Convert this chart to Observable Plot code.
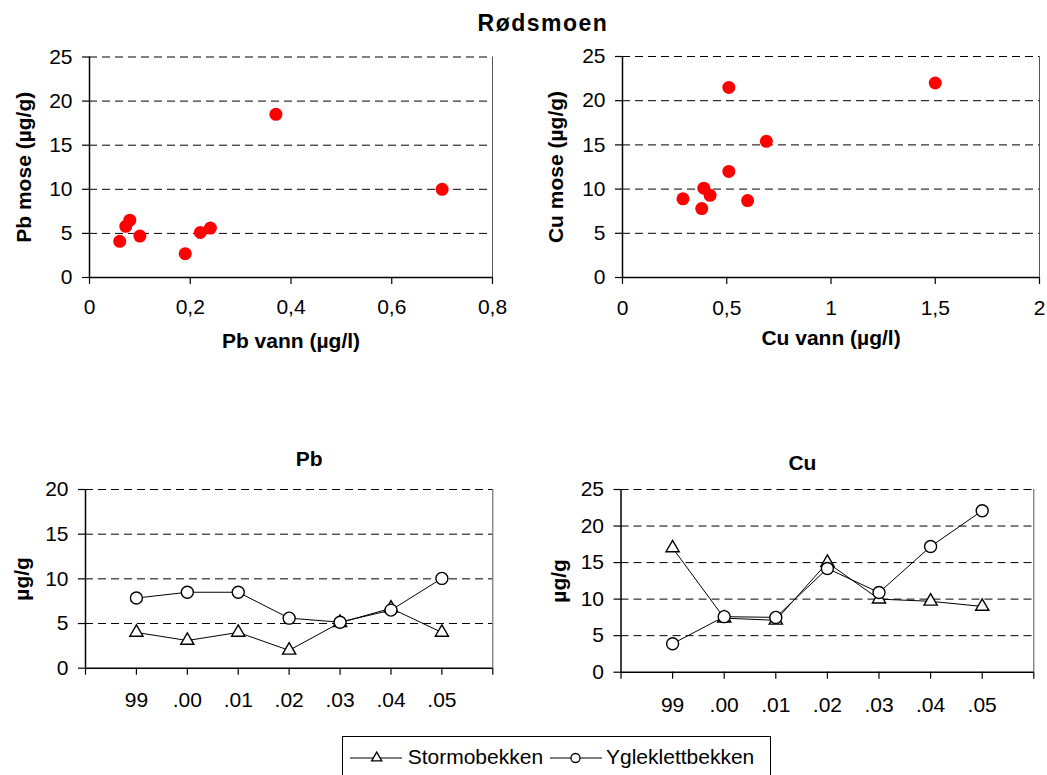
<!DOCTYPE html>
<html>
<head>
<meta charset="utf-8">
<script src="https://cdn.jsdelivr.net/npm/d3@7"></script>
<script src="https://cdn.jsdelivr.net/npm/@observablehq/plot@0.6"></script>
<style>
  body { margin: 0; background: #fff; }
  #chart { position: relative; width: 1047px; height: 775px; overflow: hidden; background: #fff;
           font-family: "Liberation Sans", Arial, sans-serif; }
  .panel { position: absolute; }
  .panel svg { overflow: visible; }
</style>
</head>
<body>
<div id="chart"></div>
<script>
// ---------- data ----------
const mainTitle = "Rødsmoen";

// scatter: Pb
const pbVann = [0.06, 0.072, 0.08, 0.10, 0.19, 0.22, 0.24, 0.37, 0.70];
const pbMose = [4.1, 5.8, 6.5, 4.7, 2.7, 5.1, 5.6, 18.5, 10.0];
// scatter: Cu
const cuVann = [0.29, 0.38, 0.39, 0.42, 0.51, 0.51, 0.60, 0.69, 1.50];
const cuMose = [8.9, 7.8, 10.1, 9.3, 12.0, 21.5, 8.7, 15.4, 22.0];

// time series
const yearLabels = ["99", ".00", ".01", ".02", ".03", ".04", ".05"];
const seriesNames = ["Stormobekken", "Ygleklettbekken"];
const pbStormo = [4.0, 3.1, 4.0, 2.0, 5.1, 6.7, 4.0];
const pbYglek  = [7.85, 8.5, 8.5, 5.6, 5.15, 6.5, 10.05];
const cuStormo = [17.0, 7.4, 7.1, 15.0, 10.0, 9.7, 9.0];
const cuYglek  = [3.9, 7.6, 7.5, 14.2, 10.9, 17.2, 22.1];

const pbScatterTicksX = [0, 0.2, 0.4, 0.6, 0.8];
const cuScatterTicksX = [0, 0.5, 1, 1.5, 2];
const ticks25 = [0, 5, 10, 15, 20, 25];
const ticks20 = [0, 5, 10, 15, 20];

// ---------- helpers ----------
const FONT = '"Liberation Sans", Arial, sans-serif';
const chart = document.getElementById("chart");
const comma = d => String(d).replace(".", ",");

function place(node, left, top) {
  const div = document.createElement("div");
  div.className = "panel";
  div.style.left = left + "px";
  div.style.top = top + "px";
  div.appendChild(node);
  chart.appendChild(div);
}

function baseStyle() {
  return { fontFamily: FONT, fontSize: "21px", color: "#000", background: "transparent", overflow: "visible" };
}

function scatterPanel(o) {
  const rows = o.xs.map((x, i) => ({ x, y: o.ys[i] }));
  const gridVals = o.yTicks.filter(v => v > 0);
  return Plot.plot({
    width: o.width, height: o.height,
    marginLeft: o.ml, marginRight: o.mr, marginTop: o.mt, marginBottom: o.mb,
    style: baseStyle(),
    x: { domain: o.xDomain },
    y: { domain: o.yDomain },
    marks: [
      Plot.ruleY(gridVals, { stroke: "#000", strokeWidth: 1, strokeDasharray: "8,5" }),
      Plot.ruleX([o.xDomain[1]], { stroke: "#555", strokeWidth: 1 }),
      Plot.axisX({ ticks: o.xTicks, tickFormat: comma, tickSize: 7, tickPadding: o.xPad, label: null, strokeWidth: 1.2 }),
      Plot.axisY({ ticks: o.yTicks, tickSize: 7, tickPadding: 10, label: null, strokeWidth: 1.2 }),
      Plot.ruleY([o.yDomain[0]], { stroke: "#000", strokeWidth: 1.5 }),
      Plot.ruleX([o.xDomain[0]], { stroke: "#000", strokeWidth: 1.5 }),
      Plot.dot(rows, { x: "x", y: "y", r: 6.5, fill: "#ff0000", stroke: "none" }),
      Plot.text([o.xLabel], { text: d => d, frameAnchor: "bottom", dy: o.xLabelDy, lineAnchor: "middle", fontWeight: "bold" }),
      Plot.text([o.yLabel], { text: d => d, frameAnchor: "left", dx: o.yLabelDx, rotate: -90, lineAnchor: "middle", textAnchor: "middle", fontWeight: "bold" })
    ]
  });
}

function linePanel(o) {
  const rows = [];
  o.series.forEach((vals, s) => vals.forEach((v, i) => rows.push({ series: seriesNames[s], x: i + 1, y: v })));
  const stormo = rows.filter(d => d.series === seriesNames[0]);
  const yglek = rows.filter(d => d.series === seriesNames[1]);
  const gridVals = o.yTicks.filter(v => v > 0);
  const xt = d3.range(0, yearLabels.length + 2);
  return Plot.plot({
    width: o.width, height: o.height,
    marginLeft: o.ml, marginRight: o.mr, marginTop: o.mt, marginBottom: o.mb,
    style: baseStyle(),
    x: { domain: [0, yearLabels.length + 1] },
    y: { domain: o.yDomain },
    marks: [
      Plot.ruleY(gridVals, { stroke: "#000", strokeWidth: 1, strokeDasharray: "8,5" }),
      Plot.ruleX([yearLabels.length + 1], { stroke: "#555", strokeWidth: 1 }),
      Plot.axisX({ ticks: xt, tickFormat: i => yearLabels[i - 1] ?? "", tickSize: 7, tickPadding: o.xPad, label: null, strokeWidth: 1.2 }),
      Plot.axisY({ ticks: o.yTicks, tickSize: 7, tickPadding: 10, label: null, strokeWidth: 1.2 }),
      Plot.ruleY([0], { stroke: "#000", strokeWidth: 1.5 }),
      Plot.ruleX([0], { stroke: "#000", strokeWidth: 1.5 }),
      Plot.line(stormo, { x: "x", y: "y", stroke: "#000", strokeWidth: 1 }),
      Plot.line(yglek, { x: "x", y: "y", stroke: "#000", strokeWidth: 1 }),
      Plot.dot(stormo, { x: "x", y: "y", symbol: "triangle", r: 4.9, fill: "#fff", stroke: "#000", strokeWidth: 1.4 }),
      Plot.dot(yglek, { x: "x", y: "y", symbol: "circle", r: 6, fill: "#fff", stroke: "#000", strokeWidth: 1.4 }),
      Plot.text([o.title], { text: d => d, frameAnchor: "top", dx: o.titleDx, dy: o.titleDy, lineAnchor: "middle", fontWeight: "bold" }),
      Plot.text([o.yLabel], { text: d => d, frameAnchor: "left", dx: o.yLabelDx, rotate: -90, lineAnchor: "middle", textAnchor: "middle", fontWeight: "bold" })
    ]
  });
}

// ---------- title ----------
const tsvg = d3.create("svg").attr("width", 1047).attr("height", 40);
tsvg.append("text").attr("x", 543).attr("y", 31).attr("text-anchor", "middle")
  .attr("font-family", FONT).attr("font-size", 23).attr("font-weight", "bold")
  .attr("letter-spacing", 1.5).text(mainTitle);
place(tsvg.node(), 0, 0);

// ---------- top row ----------
place(scatterPanel({
  xs: pbVann, ys: pbMose, xDomain: [0, 0.8], xTicks: pbScatterTicksX, yDomain: [0, 25], yTicks: ticks25,
  width: 515, height: 330, ml: 89, mr: 23, mt: 16.5, mb: 93, xPad: 15,
  xLabel: "Pb vann (µg/l)", xLabelDy: 64, yLabel: "Pb mose (µg/g)", yLabelDx: -65
}), 0, 40);

place(scatterPanel({
  xs: cuVann, ys: cuMose, xDomain: [0, 2], xTicks: cuScatterTicksX, yDomain: [0, 25], yTicks: ticks25,
  width: 532, height: 330, ml: 107, mr: 8, mt: 16, mb: 93, xPad: 16,
  xLabel: "Cu vann (µg/l)", xLabelDy: 61, yLabel: "Cu mose (µg/g)", yLabelDx: -66
}), 515, 40);

// ---------- bottom row ----------
place(linePanel({
  series: [pbStormo, pbYglek], yDomain: [0, 20], yTicks: ticks20,
  width: 515, height: 285, ml: 85, mr: 22.7, mt: 49, mb: 57.3, xPad: 17,
  title: "Pb", titleDx: 20, titleDy: -30, yLabel: "µg/g", yLabelDx: -63
}), 0, 440);

place(linePanel({
  series: [cuStormo, cuYglek], yDomain: [0, 25], yTicks: ticks25,
  width: 532, height: 285, ml: 105.5, mr: 13.7, mt: 49, mb: 53.3, xPad: 18,
  title: "Cu", titleDx: -25, titleDy: -26, yLabel: "µg/g", yLabelDx: -61.5
}), 515, 440);

// ---------- legend ----------
const lsvg = d3.create("svg").attr("width", 430).attr("height", 39)
  .attr("font-family", FONT).attr("font-size", 21);
lsvg.append("rect").attr("x", 0.5).attr("y", 0.5).attr("width", 428).attr("height", 60)
  .attr("fill", "#fff").attr("stroke", "#000").attr("stroke-width", 1);
const legendItems = [
  { name: seriesNames[0], symbol: d3.symbolTriangle, size: 45, x0: 8, cx: 34.7, tx: 65.7 },
  { name: seriesNames[1], symbol: d3.symbolCircle, size: Math.PI * 4.5 * 4.5, x0: 208, cx: 233.5, tx: 264 }
];
legendItems.forEach(it => {
  const g = lsvg.append("g");
  g.append("line").attr("x1", it.x0).attr("x2", it.x0 + 52).attr("y1", 22).attr("y2", 22)
    .attr("stroke", "#000").attr("stroke-width", 1);
  g.append("path").attr("d", d3.symbol(it.symbol, it.size)()).attr("transform", `translate(${it.cx},22)`)
    .attr("fill", "#fff").attr("stroke", "#000").attr("stroke-width", 1.3);
  g.append("text").attr("x", it.tx).attr("y", 28).text(it.name);
});
place(lsvg.node(), 342, 736);
</script>
</body>
</html>
